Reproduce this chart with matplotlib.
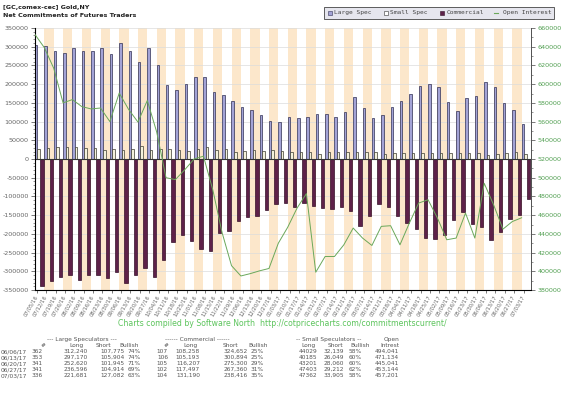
import matplotlib
matplotlib.use("Agg")
import matplotlib.pyplot as plt
from matplotlib.patches import Rectangle
from matplotlib.ticker import MultipleLocator
import numpy as np

# ---------------- data ----------------
dates = ["07/05/16", "07/12/16", "07/19/16", "07/26/16", "08/02/16", "08/09/16", "08/16/16",
         "08/23/16", "08/30/16", "09/06/16", "09/13/16", "09/20/16", "09/27/16", "10/04/16",
         "10/11/16", "10/18/16", "10/25/16", "11/01/16", "11/08/16", "11/15/16", "11/22/16",
         "11/29/16", "12/06/16", "12/13/16", "12/20/16", "12/27/16", "01/03/17", "01/10/17",
         "01/17/17", "01/24/17", "01/31/17", "02/07/17", "02/14/17", "02/21/17", "02/28/17",
         "03/07/17", "03/14/17", "03/21/17", "03/28/17", "04/04/17", "04/11/17", "04/18/17",
         "04/25/17", "05/02/17", "05/09/17", "05/16/17", "05/23/17", "05/30/17", "06/06/17",
         "06/13/17", "06/20/17", "06/27/17", "07/03/17"]

large_spec = [305000, 301000, 289000, 283000, 297000, 289000, 289000, 297000, 280000, 310000,
              289000, 258000, 296000, 250000, 197000, 184000, 200000, 218000, 218000, 179000,
              170000, 155000, 139000, 132000, 118000, 102000, 99000, 111000, 109000, 112000,
              121000, 119000, 111000, 126000, 166000, 135000, 109000, 117000, 140000, 156000,
              174000, 196000, 201000, 192000, 152000, 128000, 162000, 169000, 204465, 191266,
              150675, 131682, 94599]

small_spec = [27000, 30000, 32000, 33000, 33000, 30000, 30000, 25000, 27000, 25000,
              28000, 36000, 25000, 28000, 28000, 25000, 22000, 28000, 32000, 25000,
              28000, 19000, 22000, 23000, 22000, 25000, 22000, 18000, 18000, 19000,
              14000, 19000, 19000, 18000, 18000, 20000, 19000, 14000, 16000, 16000,
              16000, 17000, 16000, 16000, 16000, 17000, 16000, 17000, 11890, 14136,
              15141, 18191, 13457]

commercial = [-339000, -325000, -316000, -310000, -323000, -311000, -310000, -317000, -302000, -331000,
              -311000, -291000, -315000, -270000, -222000, -203000, -218000, -240000, -247000, -199000,
              -192000, -166000, -155000, -151000, -135000, -121000, -117000, -127000, -118000, -126000,
              -131000, -134000, -127000, -140000, -180000, -152000, -121000, -129000, -152000, -170000,
              -186000, -211000, -214000, -204000, -164000, -141000, -173000, -182000, -216394, -195701,
              -159093, -149863, -107226]

open_interest = [653000, 639000, 617000, 580000, 583500, 576000, 573500, 574500, 560000, 590500,
                 573000, 559500, 582500, 549000, 500000, 498000, 508500, 520000, 523000, 487000,
                 441000, 406000, 395000, 397500, 400500, 403000, 430000, 447000, 467500, 483000,
                 399000, 415800, 415800, 428300, 446200, 435500, 427600, 448000, 448700, 428300,
                 451500, 472900, 476500, 456900, 433700, 435500, 462200, 435500, 494041, 471134,
                 445041, 453144, 457201]

left_ticks = list(range(-350000, 350001, 50000))
right_ticks = list(range(380000, 660001, 20000))

# summary table
table_dates = ["06/06/17", "06/13/17", "06/20/17", "06/27/17", "07/03/17"]
ls_traders = [362, 353, 341, 341, 336]
ls_long = [312240, 297170, 252620, 236596, 221681]
ls_short = [107775, 105904, 101945, 104914, 127082]
ls_bullish = [74, 74, 71, 69, 63]
cm_traders = [107, 106, 105, 102, 104]
cm_long = [108258, 105193, 116207, 117497, 131190]
cm_short = [324652, 300894, 275300, 267360, 238416]
cm_bullish = [25, 25, 29, 31, 35]
ss_long = [44029, 40185, 43201, 47403, 47362]
ss_short = [32139, 26049, 28060, 29212, 33905]
ss_bullish = [58, 60, 60, 62, 58]
oi_table = [494041, 471134, 445041, 453144, 457201]

# ---------------- style ----------------
W, H = 568, 399
L, R, T, B = 35, 531, 28, 290
PEACH = "#fce7cb"
LAV = "#a3a3d6"
LAV_EDGE = "#2e2e52"
SMALL = "#f4f1dc"
SMALL_EDGE = "#3a3a30"
COMM = "#5e2149"
COMM_EDGE = "#351028"
GREEN = "#6aa85a"
GRAY = "#666666"

fig = plt.figure(figsize=(W / 100, H / 100), dpi=100)
fig.patch.set_facecolor("white")

ax = fig.add_axes([L / W, 1 - B / H, (R - L) / W, (B - T) / H])
n = len(dates)
x = np.arange(n)
ax.set_xlim(-0.5, n - 0.5)
ax.set_ylim(left_ticks[0], left_ticks[-1])

for i in range(1, n, 2):
    ax.axvspan(i - 0.5, i + 0.5, color=PEACH, lw=0, zorder=0)

ax.set_yticks(left_ticks)
ax.yaxis.set_minor_locator(MultipleLocator(10000))
ax.yaxis.grid(True, color="#dcdcdc", lw=0.5, zorder=1)
ax.set_axisbelow(True)

ax.bar(x - 0.37, large_spec, width=0.27, color=LAV, edgecolor=LAV_EDGE, lw=0.5, zorder=3)
ax.bar(x - 0.10, small_spec, width=0.27, color=SMALL, edgecolor=SMALL_EDGE, lw=0.5, zorder=3)
ax.bar(x + 0.24, commercial, width=0.36, color=COMM, edgecolor=COMM_EDGE, lw=0.5, zorder=3)
ax.axhline(0, color="#333333", lw=0.8, zorder=4)

ax.set_yticklabels([str(v) for v in left_ticks])
ax.set_xticks(x - 0.3)
ax.set_xticklabels(dates, rotation=60, ha="right", va="center", rotation_mode="anchor",
                   fontsize=3.8, color=GRAY)
ax.tick_params(axis="x", length=2, width=0.5, color="#444444", pad=2)
ax.tick_params(axis="y", which="major", length=3, width=0.5, color="#444444",
               labelsize=4.6, labelcolor=GRAY, pad=1.5)
ax.tick_params(axis="y", which="minor", length=1.5, width=0.4, color="#444444")
ax.spines["top"].set_visible(False)
for s in ["left", "bottom", "right"]:
    ax.spines[s].set_color("#555555")
    ax.spines[s].set_linewidth(0.7)

ax2 = ax.twinx()
ax2.set_ylim(right_ticks[0], right_ticks[-1])
ax2.plot(x - 0.5, open_interest, color=GREEN, lw=0.7, zorder=5)
ax2.set_yticks(right_ticks)
ax2.set_yticklabels([str(v) for v in right_ticks])
ax2.yaxis.set_minor_locator(MultipleLocator(10000))
ax2.tick_params(axis="y", which="major", length=3, width=0.5, color="#444444",
                labelsize=4.6, labelcolor="#4f9e4f", pad=1.5)
ax2.tick_params(axis="y", which="minor", length=1.5, width=0.4, color="#444444")
ax2.spines["top"].set_visible(False)
ax2.spines["right"].set_color("#555555")
ax2.spines["right"].set_linewidth(0.7)

# ---------------- overlay (pixel coordinates) ----------------
ov = fig.add_axes([0, 0, 1, 1], facecolor="none")
ov.set_xlim(0, W)
ov.set_ylim(H, 0)
ov.axis("off")

ov.text(3, 8, "[GC,comex-cec] Gold,NY", fontsize=4.6, fontweight="bold", color="#222222",
        va="center", ha="left")
ov.text(3, 15.5, "Net Commitments of Futures Traders", fontsize=4.6, fontweight="bold",
        color="#222222", va="center", ha="left")

# legend
ov.add_patch(Rectangle((324, 7), 230, 11.5, facecolor="#e6e6ee", edgecolor="#444444", lw=0.6))
ly = 12.8
leg_font = dict(fontsize=4.5, color="#444444", va="center", ha="left", family="DejaVu Sans Mono")
ov.add_patch(Rectangle((327.5, ly - 2), 4, 4, facecolor=LAV, edgecolor="#333355", lw=0.4))
ov.text(334, ly, "Large Spec", **leg_font)
ov.add_patch(Rectangle((383.5, ly - 2), 4, 4, facecolor="white", edgecolor="#333333", lw=0.4))
ov.text(390, ly, "Small Spec", **leg_font)
ov.add_patch(Rectangle((440, ly - 2), 4, 4, facecolor=COMM, edgecolor=COMM_EDGE, lw=0.4))
ov.text(447, ly, "Commercial", **leg_font)
ov.plot([494, 498], [ly, ly], color=GREEN, lw=0.8)
ov.text(503, ly, "Open Interest", **leg_font)

ov.text(282, 323.5, "Charts compiled by Software North  http://cotpricecharts.com/commitmentscurrent/",
        fontsize=5.6, color="#5cc45c", ha="center", va="center")

# table
tf = dict(fontsize=4.2, color="#555555", va="center", family="DejaVu Sans")
h1 = 339.5
ov.text(82, h1, "--- Large Speculators ---", ha="center", **tf)
ov.text(197, h1, "------ Commercial ------", ha="center", **tf)
ov.text(329, h1, "-- Small Speculators --", ha="center", **tf)
ov.text(399, h1, "Open", ha="right", **tf)
h2 = 345.5
for txt, xr in [("#", 45), ("Long", 84), ("Short", 111), ("Bullish", 139), ("#", 168),
                ("Long", 198), ("Short", 238), ("Bullish", 268), ("Long", 316),
                ("Short", 343), ("Bullish", 370), ("Intrest", 399)]:
    ov.text(xr, h2, txt, ha="right", **tf)

def fmt(v):
    return f"{v:,}"

for r in range(len(table_dates)):
    yy = 351.5 + r * 6.0
    ov.text(1, yy, table_dates[r], ha="left", **tf)
    cells = [(str(ls_traders[r]), 43), (fmt(ls_long[r]), 88), (fmt(ls_short[r]), 125),
             (f"{ls_bullish[r]}%", 141), (str(cm_traders[r]), 168), (fmt(cm_long[r]), 200),
             (fmt(cm_short[r]), 248), (f"{cm_bullish[r]}%", 264), (str(ss_long[r]), 317),
             (fmt(ss_short[r]), 344), (f"{ss_bullish[r]}%", 362), (fmt(oi_table[r]), 399)]
    for txt, xr in cells:
        ov.text(xr, yy, txt, ha="right", **tf)

fig.savefig("out.png", dpi=100)
